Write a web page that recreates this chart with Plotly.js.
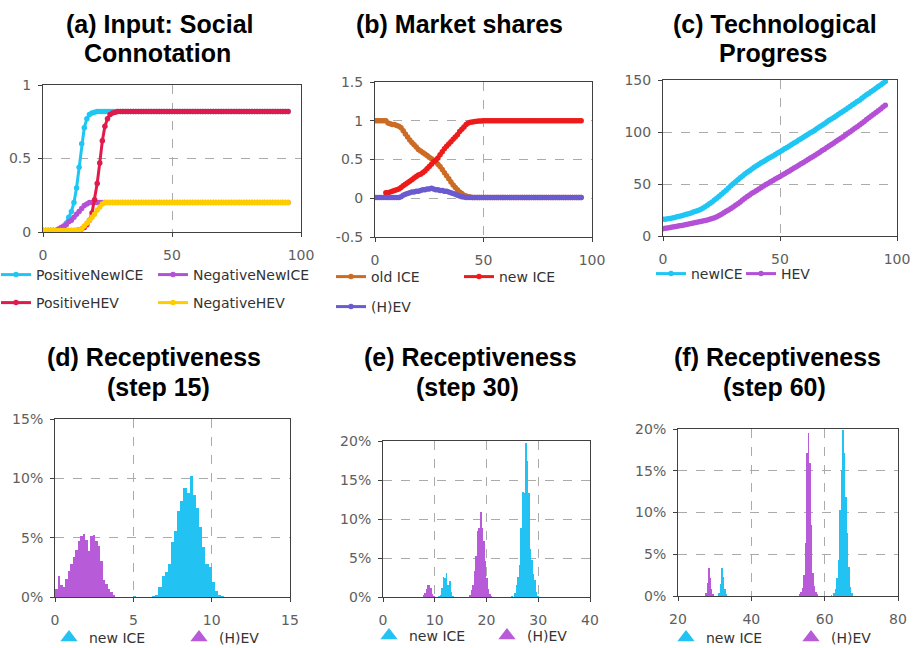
<!DOCTYPE html>
<html>
<head>
<meta charset="utf-8">
<script src="https://cdn.plot.ly/plotly-3.0.1.min.js"></script>
<style>
html, body { margin: 0; padding: 0; background: #ffffff; }
#chart { width: 913px; height: 648px; }
</style>
</head>
<body>
<div id="chart"></div>
<script>
// ---------- simulation steps (shared x values for panels a, b, c) ----------
const steps = [
  0,1,2,3,4,5,6,7,8,9,10,11,12,13,14,15,16,17,18,19,
  20,21,22,23,24,25,26,27,28,29,30,31,32,33,34,35,36,37,38,39,
  40,41,42,43,44,45,46,47,48,49,50,51,52,53,54,55,56,57,58,59,
  60,61,62,63,64,65,66,67,68,69,70,71,72,73,74,75,76,77,78,79,
  80,81,82,83,84,85,86,87,88,89,90,91,92,93,94,95
];

// ---------- (a) social connotation inputs ----------
const positiveNewICE = [
  0.01,0.01,0.01,0.01,0.01,0.01,0.01,0.01,0.03,0.06,0.10,0.14,0.20,0.30,0.44,0.60,0.71,0.77,0.80,0.81,
  0.815,0.82,0.82,0.82,0.82,0.82,0.82,0.82,0.82,0.82,0.82,0.82,0.82,0.82,0.82,0.82,0.82,0.82,0.82,0.82,
  0.82,0.82,0.82,0.82,0.82,0.82,0.82,0.82,0.82,0.82,0.82,0.82,0.82,0.82,0.82,0.82,0.82,0.82,0.82,0.82,
  0.82,0.82,0.82,0.82,0.82,0.82,0.82,0.82,0.82,0.82,0.82,0.82,0.82,0.82,0.82,0.82,0.82,0.82,0.82,0.82,
  0.82,0.82,0.82,0.82,0.82,0.82,0.82,0.82,0.82,0.82,0.82,0.82,0.82,0.82,0.82,0.82
];
const negativeNewICE = [
  0.01,0.01,0.01,0.01,0.01,0.01,0.02,0.03,0.04,0.05,0.07,0.08,0.10,0.12,0.14,0.16,0.18,0.19,0.20,0.20,
  0.20,0.20,0.20,0.20,0.20,0.20,0.20,0.20,0.20,0.20,0.20,0.20,0.20,0.20,0.20,0.20,0.20,0.20,0.20,0.20,
  0.20,0.20,0.20,0.20,0.20,0.20,0.20,0.20,0.20,0.20,0.20,0.20,0.20,0.20,0.20,0.20,0.20,0.20,0.20,0.20,
  0.20,0.20,0.20,0.20,0.20,0.20,0.20,0.20,0.20,0.20,0.20,0.20,0.20,0.20,0.20,0.20,0.20,0.20,0.20,0.20,
  0.20,0.20,0.20,0.20,0.20,0.20,0.20,0.20,0.20,0.20,0.20,0.20,0.20,0.20,0.20,0.20
];
const positiveHEV = [
  0.01,0.01,0.01,0.01,0.01,0.01,0.01,0.01,0.01,0.01,0.01,0.01,0.01,0.01,0.015,0.02,0.03,0.05,0.08,0.13,
  0.22,0.33,0.47,0.62,0.72,0.77,0.80,0.81,0.815,0.82,0.82,0.82,0.82,0.82,0.82,0.82,0.82,0.82,0.82,0.82,
  0.82,0.82,0.82,0.82,0.82,0.82,0.82,0.82,0.82,0.82,0.82,0.82,0.82,0.82,0.82,0.82,0.82,0.82,0.82,0.82,
  0.82,0.82,0.82,0.82,0.82,0.82,0.82,0.82,0.82,0.82,0.82,0.82,0.82,0.82,0.82,0.82,0.82,0.82,0.82,0.82,
  0.82,0.82,0.82,0.82,0.82,0.82,0.82,0.82,0.82,0.82,0.82,0.82,0.82,0.82,0.82,0.82
];
const negativeHEV = [
  0.01,0.01,0.01,0.01,0.01,0.01,0.01,0.01,0.01,0.01,0.01,0.01,0.01,0.012,0.015,0.02,0.04,0.06,0.08,0.10,
  0.12,0.15,0.17,0.19,0.20,0.20,0.20,0.20,0.20,0.20,0.20,0.20,0.20,0.20,0.20,0.20,0.20,0.20,0.20,0.20,
  0.20,0.20,0.20,0.20,0.20,0.20,0.20,0.20,0.20,0.20,0.20,0.20,0.20,0.20,0.20,0.20,0.20,0.20,0.20,0.20,
  0.20,0.20,0.20,0.20,0.20,0.20,0.20,0.20,0.20,0.20,0.20,0.20,0.20,0.20,0.20,0.20,0.20,0.20,0.20,0.20,
  0.20,0.20,0.20,0.20,0.20,0.20,0.20,0.20,0.20,0.20,0.20,0.20,0.20,0.20,0.20,0.20
];

// ---------- (b) market shares ----------
const shareOldICE = [
  1.00,1.00,1.00,1.00,1.00,1.00,0.97,0.96,0.95,0.95,0.94,0.93,0.91,0.87,0.83,0.79,0.75,0.72,0.69,0.66,
  0.63,0.61,0.59,0.57,0.55,0.53,0.51,0.49,0.47,0.44,0.41,0.37,0.33,0.29,0.25,0.21,0.17,0.14,0.11,0.08,
  0.06,0.04,0.03,0.02,0.015,0.01,0.01,0.01,0.01,0.01,0.01,0.01,0.01,0.01,0.01,0.01,0.01,0.01,0.01,0.01,
  0.01,0.01,0.01,0.01,0.01,0.01,0.01,0.01,0.01,0.01,0.01,0.01,0.01,0.01,0.01,0.01,0.01,0.01,0.01,0.01,
  0.01,0.01,0.01,0.01,0.01,0.01,0.01,0.01,0.01,0.01,0.01,0.01,0.01,0.01,0.01,0.01
];
const shareNewICE = [
  null,null,null,null,null,0.07,0.07,0.08,0.09,0.10,0.11,0.12,0.14,0.16,0.18,0.20,0.22,0.24,0.26,0.28,
  0.30,0.31,0.33,0.35,0.38,0.41,0.44,0.47,0.49,0.52,0.56,0.60,0.64,0.67,0.70,0.73,0.76,0.79,0.82,0.86,
  0.89,0.92,0.95,0.97,0.98,0.985,0.99,0.993,0.996,0.998,1.00,1.00,1.00,1.00,1.00,1.00,1.00,1.00,1.00,1.00,
  1.00,1.00,1.00,1.00,1.00,1.00,1.00,1.00,1.00,1.00,1.00,1.00,1.00,1.00,1.00,1.00,1.00,1.00,1.00,1.00,
  1.00,1.00,1.00,1.00,1.00,1.00,1.00,1.00,1.00,1.00,1.00,1.00,1.00,1.00,1.00,1.00
];
const shareHEV = [
  0.01,0.01,0.01,0.01,0.01,0.01,0.01,0.01,0.01,0.01,0.01,0.01,0.02,0.04,0.05,0.06,0.07,0.08,0.08,0.09,
  0.09,0.10,0.11,0.11,0.12,0.12,0.13,0.12,0.11,0.11,0.10,0.10,0.09,0.09,0.08,0.07,0.06,0.05,0.04,0.03,
  0.02,0.015,0.01,0.01,0.01,0.01,0.01,0.01,0.01,0.01,0.01,0.01,0.01,0.01,0.01,0.01,0.01,0.01,0.01,0.01,
  0.01,0.01,0.01,0.01,0.01,0.01,0.01,0.01,0.01,0.01,0.01,0.01,0.01,0.01,0.01,0.01,0.01,0.01,0.01,0.01,
  0.01,0.01,0.01,0.01,0.01,0.01,0.01,0.01,0.01,0.01,0.01,0.01,0.01,0.01,0.01,0.01
];

// ---------- (c) technological progress ----------
const techNewICE = [
  16.0,16.2,16.5,16.9,17.4,17.9,18.4,18.9,19.5,20.1,20.8,21.5,22.2,23.0,23.8,24.6,25.6,26.8,28.1,29.6,
  31.2,32.8,34.5,36.3,38.2,40.1,42.1,44.1,46.2,48.2,50.3,52.2,54.1,56.0,57.8,59.5,61.2,62.8,64.4,66.0,
  67.6,69.0,70.4,71.7,73.0,74.4,75.7,77.0,78.4,79.7,81.0,82.4,83.8,85.2,86.5,88.0,89.4,90.6,92.2,93.6,
  95.0,96.4,97.8,99.2,100.6,102.0,103.5,105.0,106.5,108.0,109.5,111.3,112.5,114.0,115.5,117.0,118.5,120.0,121.5,123.0,
  124.5,126.1,127.7,129.3,130.6,132.5,134.1,135.7,137.3,138.9,140.5,142.1,143.7,145.3,146.9,148.5
];
const techHEV = [
  7.0,7.4,7.8,8.2,8.6,9.0,9.4,9.8,10.2,10.6,11.0,11.5,11.9,12.4,12.9,13.4,13.9,14.4,14.9,15.5,
  16.1,16.8,17.6,18.6,19.8,21.0,22.3,23.7,25.1,26.5,28.0,29.5,31.1,32.8,34.5,36.2,37.9,39.5,41.0,42.4,
  43.8,45.2,46.6,48.0,49.4,50.8,52.1,53.4,54.7,56.0,57.3,58.6,59.9,61.3,62.6,64.0,65.3,66.7,68.0,69.4,
  70.7,72.1,73.5,74.9,76.3,77.7,79.2,80.6,82.1,83.5,85.0,86.5,88.0,89.5,91.0,92.5,94.0,95.5,97.1,98.7,
  100.3,101.9,103.5,105.1,106.8,108.5,110.2,111.9,113.6,115.3,117.0,118.7,120.4,122.2,124.0,125.8
];

// ---------- (d) receptiveness histogram, step 15 (percent of agents per bin) ----------
const d_newICE_bins = [5.1,6.3,6.5,6.7,6.9,7.1,7.3,7.5,7.7,7.9,8.1,8.3,8.5,8.7,8.9,9.1,9.3,9.5,9.7,9.9,10.1,10.3,10.5,10.7];
const d_newICE_pct  = [0.1,0.1,0.2,0.85,1.75,2.1,2.8,4.6,5.6,7.25,8.1,9.2,8.8,10.2,8.6,7.5,5.9,4.2,2.8,2.5,1.3,0.5,0.15,0.05];
const d_hev_bins = [0.08,0.24,0.40,0.56,0.72,0.88,1.04,1.20,1.36,1.52,1.68,1.84,2.00,2.16,2.32,2.48,2.64,2.80,2.96,3.12,3.28,3.44,3.60,3.76];
const d_hev_pct  = [0.7,1.8,1.0,0.85,1.5,2.2,2.75,3.4,4.0,4.7,5.1,5.35,4.8,3.85,5.1,5.2,4.7,4.3,3.0,1.4,1.1,0.7,0.45,0.15];

// ---------- (e) receptiveness histogram, step 30 ----------
const e_newICE_bins = [10.8,11.1,11.4,11.7,12.0,12.3,12.6,12.9,13.2,13.5,
                       24.9,25.5,25.8,26.1,26.4,26.7,27.0,27.3,27.6,27.9,28.2,28.5,28.8,29.1,29.4,29.7,30.0];
const e_newICE_pct  = [0.1,0.3,1.2,2.6,2.4,3.1,1.5,2.1,0.6,0.1,
                       0.1,0.5,1.5,2.6,4.1,8.9,13.4,13.3,19.7,17.4,13.3,6.2,4.8,3.0,2.2,0.6,0.1];
const e_hev_bins = [7.8,8.1,8.4,8.7,9.0,9.3,9.6,9.9,
                    16.8,17.1,17.4,17.7,18.0,18.3,18.6,18.9,19.2,19.5,19.8,20.1,20.4,20.7,21.0];
const e_hev_pct  = [0.2,0.5,1.0,1.5,1.6,1.2,0.4,0.1,
                    0.3,0.9,1.5,3.3,5.2,8.5,8.9,10.9,8.9,7.2,4.6,2.4,1.0,0.4,0.1];

// ---------- (f) receptiveness histogram, step 60 ----------
const f_newICE_bins = [31.2,31.6,32.0,32.4,32.8,33.2,
                       61.8,62.6,63.0,63.4,63.8,64.2,64.6,65.0,65.4,65.8,66.2,66.6,67.0,67.4];
const f_newICE_pct  = [0.3,1.4,3.3,2.3,0.8,0.2,
                       0.1,0.3,0.8,2.1,4.3,10.3,15.1,19.9,17.1,11.9,7.5,3.5,1.1,0.3];
const f_hev_bins = [27.6,28.0,28.4,28.8,29.2,29.6,
                    53.2,53.6,54.0,54.4,54.8,55.2,55.6,56.0,56.4,56.8,57.2,57.6,58.0];
const f_hev_pct  = [0.3,1.6,3.3,2.2,0.8,0.2,
                    0.2,0.5,1.0,2.5,6.3,17.1,19.5,15.9,8.5,2.7,1.2,0.5,0.2];

// ---------- tick labels ----------
const shareTickVals = [-0.5, 0, 0.5, 1, 1.5];
const shareTickText = ['-0.5', '0', '0.5', '1', '1.5'];

// ---------- styling ----------
const W = 913, H = 648;
const px = v => v / W;          // pixel column -> paper x
const py = v => 1 - v / H;      // pixel row -> paper y

const CYAN = '#1fc6f4', PURPLE = '#b450d6', CRIMSON = '#e01a4c', GOLD = '#ffcc00';
const ORANGE = '#cc6b24', RED = '#ee1b1b', SLATE = '#6a5bd0';
const HIST_CYAN = '#22c2f2', HIST_PURPLE = '#b85bd8';

const tickFont = { family: 'DejaVu Sans, Verdana, sans-serif', size: 14, color: '#5e5e5e' };
const legendFont = { family: 'DejaVu Sans, Verdana, sans-serif', size: 14, color: '#333333' };

const axisBase = {
  showline: true, mirror: true, linecolor: '#404040', linewidth: 1,
  ticks: 'outside', ticklen: 4, tickcolor: '#404040',
  showgrid: true, gridcolor: '#ababab', griddash: 'dash', gridwidth: 1,
  zeroline: false, tickfont: tickFont, fixedrange: true
};
const xAx = (o) => Object.assign({}, axisBase, { ticklabelstandoff: 6 }, o);
const yAx = (o) => Object.assign({}, axisBase, { ticklabelstandoff: 4 }, o);

function line(x, y, name, color, xa, ya, legend) {
  return {
    type: 'scatter', mode: 'lines+markers', x: x, y: y, name: name,
    xaxis: xa, yaxis: ya, legend: legend,
    line: { color: color, width: 3 },
    marker: { color: color, size: 5.5 },
    hoverinfo: 'skip'
  };
}
function bars(x, y, width, color, xa, ya) {
  return {
    type: 'bar', x: x, y: y, width: width, xaxis: xa, yaxis: ya,
    marker: { color: color, line: { width: 0 } }, showlegend: false, hoverinfo: 'skip'
  };
}
function histKey(name, color, xa, ya, legend) {
  return {
    type: 'scatter', mode: 'markers', x: [null], y: [null], name: name,
    xaxis: xa, yaxis: ya, legend: legend,
    marker: { color: color, symbol: 'triangle-up', size: 15 }, hoverinfo: 'skip'
  };
}

const data = [
  // (a)
  line(steps, positiveNewICE, 'PositiveNewICE', CYAN, 'x', 'y', 'legend'),
  line(steps, negativeNewICE, 'NegativeNewICE', PURPLE, 'x', 'y', 'legend'),
  line(steps, positiveHEV, 'PositiveHEV', CRIMSON, 'x', 'y', 'legend2'),
  line(steps, negativeHEV, 'NegativeHEV', GOLD, 'x', 'y', 'legend2'),
  // (b)
  line(steps, shareOldICE, 'old ICE', ORANGE, 'x2', 'y2', 'legend3'),
  line(steps, shareNewICE, 'new ICE', RED, 'x2', 'y2', 'legend3'),
  line(steps, shareHEV, '(H)EV', SLATE, 'x2', 'y2', 'legend4'),
  // (c)
  line(steps, techNewICE, 'newICE', CYAN, 'x3', 'y3', 'legend5'),
  line(steps, techHEV, 'HEV', PURPLE, 'x3', 'y3', 'legend5'),
  // (d)
  bars(d_newICE_bins, d_newICE_pct, 0.2, HIST_CYAN, 'x4', 'y4'),
  bars(d_hev_bins, d_hev_pct, 0.16, HIST_PURPLE, 'x4', 'y4'),
  histKey('new ICE', HIST_CYAN, 'x4', 'y4', 'legend6'),
  histKey('(H)EV', HIST_PURPLE, 'x4', 'y4', 'legend6'),
  // (e)
  bars(e_newICE_bins, e_newICE_pct, 0.3, HIST_CYAN, 'x5', 'y5'),
  bars(e_hev_bins, e_hev_pct, 0.3, HIST_PURPLE, 'x5', 'y5'),
  histKey('new ICE', HIST_CYAN, 'x5', 'y5', 'legend7'),
  histKey('(H)EV', HIST_PURPLE, 'x5', 'y5', 'legend7'),
  // (f)
  bars(f_newICE_bins, f_newICE_pct, 0.4, HIST_CYAN, 'x6', 'y6'),
  bars(f_hev_bins, f_hev_pct, 0.4, HIST_PURPLE, 'x6', 'y6'),
  histKey('new ICE', HIST_CYAN, 'x6', 'y6', 'legend8'),
  histKey('(H)EV', HIST_PURPLE, 'x6', 'y6', 'legend8')
];

function legendAt(x, y, entry) {
  return {
    orientation: 'h', x: px(x), y: py(y), xanchor: 'left', yanchor: 'middle',
    entrywidth: entry, entrywidthmode: 'pixels', font: legendFont,
    bgcolor: 'rgba(0,0,0,0)', borderwidth: 0, itemclick: false, itemdoubleclick: false
  };
}

function title(text, x, y) {
  return {
    text: '<b>' + text + '</b>', xref: 'paper', yref: 'paper',
    x: px(x), y: py(y), xanchor: 'center', yanchor: 'middle', showarrow: false,
    font: { family: 'Liberation Sans, Arial, Helvetica, sans-serif', size: 25, color: '#000000' }
  };
}

const layout = {
  width: W, height: H, autosize: false,
  margin: { l: 0, r: 0, t: 0, b: 0, pad: 0, autoexpand: false },
  paper_bgcolor: '#ffffff', plot_bgcolor: '#ffffff',
  barmode: 'overlay', bargap: 0,
  showlegend: true,

  xaxis:  xAx({ domain: [px(43), px(301)], range: [0, 100], dtick: 50, anchor: 'y' }),
  yaxis:  yAx({ domain: [py(232), py(85)], range: [0, 1], dtick: 0.5, anchor: 'x' }),
  xaxis2: xAx({ domain: [px(375), px(592)], range: [0, 100], dtick: 50, anchor: 'y2' }),
  yaxis2: yAx({ domain: [py(237), py(82)], range: [-0.5, 1.5], tickvals: shareTickVals, ticktext: shareTickText, anchor: 'x2' }),
  xaxis3: xAx({ domain: [px(663), px(897)], range: [0, 100], dtick: 50, anchor: 'y3' }),
  yaxis3: yAx({ domain: [py(236), py(80)], range: [0, 150], dtick: 50, anchor: 'x3' }),
  xaxis4: xAx({ domain: [px(55), px(290)], range: [0, 15], dtick: 5, anchor: 'y4' }),
  yaxis4: yAx({ domain: [py(597), py(419)], range: [0, 15], dtick: 5, ticksuffix: '%', anchor: 'x4' }),
  xaxis5: xAx({ domain: [px(383), px(590)], range: [0, 40], dtick: 10, anchor: 'y5' }),
  yaxis5: yAx({ domain: [py(597), py(441)], range: [0, 20], dtick: 5, ticksuffix: '%', anchor: 'x5' }),
  xaxis6: xAx({ domain: [px(678), px(898)], range: [20, 80], dtick: 20, anchor: 'y6' }),
  yaxis6: yAx({ domain: [py(596), py(429)], range: [0, 20], dtick: 5, ticksuffix: '%', anchor: 'x6' }),

  legend:  legendAt(-4, 275, 112),
  legend2: legendAt(-4, 303, 112),
  legend3: legendAt(331, 277, 83),
  legend4: legendAt(331, 307, 83),
  legend5: legendAt(651, 274, 45),
  legend6: legendAt(49, 638, 85),
  legend7: legendAt(369, 636, 73),
  legend8: legendAt(666, 638, 80),

  annotations: [
    title('(a) Input: Social', 160, 24),
    title('Connotation', 157, 53),
    title('(b) Market shares', 459, 24),
    title('(c) Technological', 775, 24),
    title('Progress', 773, 53),
    title('(d) Receptiveness', 154, 357),
    title('(step 15)', 158, 387),
    title('(e) Receptiveness', 470, 357),
    title('(step 30)', 468, 387),
    title('(f) Receptiveness', 777, 357),
    title('(step 60)', 774, 387)
  ]
};

Plotly.newPlot('chart', data, layout, { staticPlot: true, displayModeBar: false });
</script>
</body>
</html>
